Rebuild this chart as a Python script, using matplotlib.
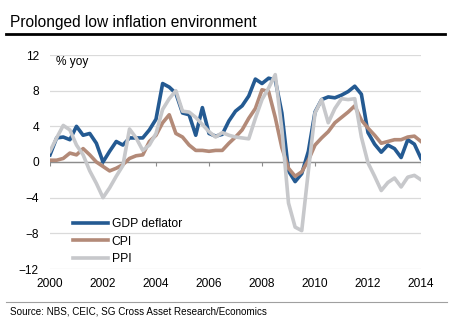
import numpy as np
import matplotlib
matplotlib.use('Agg')
import matplotlib.pyplot as plt
from matplotlib.lines import Line2D

plt.rcParams['font.family'] = ['Liberation Sans', 'DejaVu Sans']

# quarterly observations, 2000Q1 .. 2014Q1
quarters = np.arange(2000, 2014.01, 0.25)

gdp_deflator = [0.8, 2.7, 2.8, 2.5, 4.0, 3.0, 3.2, 2.1,
                0.0, 1.2, 2.3, 1.9, 2.7, 2.7, 2.7, 3.6,
                4.8, 8.8, 8.4, 7.7, 5.5, 5.3, 3.0, 6.1,
                3.2, 2.9, 3.1, 4.6, 5.7, 6.3, 7.4, 9.3,
                8.8, 9.4, 9.2, 5.5, -1.0, -2.2, -1.3, 1.2,
                5.6, 7.0, 7.3, 7.2, 7.5, 7.9, 8.5, 7.6,
                3.3, 2.0, 1.1, 1.9, 1.5, 0.5, 2.5, 2.0,
                0.4]
cpi = [0.2, 0.2, 0.4, 1.0, 0.8, 1.5, 0.8, 0.0,
       -0.5, -1.0, -0.7, -0.3, 0.4, 0.7, 0.8, 2.3,
       3.0, 4.4, 5.3, 3.2, 2.8, 1.9, 1.3, 1.3,
       1.2, 1.3, 1.3, 2.1, 2.8, 3.6, 4.9, 6.0,
       8.1, 7.9, 5.0, 1.6, -0.7, -1.6, -1.1, 0.2,
       1.9, 2.7, 3.4, 4.4, 5.0, 5.6, 6.3, 4.7,
       3.8, 3.0, 2.1, 2.3, 2.5, 2.5, 2.8, 2.9,
       2.3]
ppi = [1.2, 2.7, 4.1, 3.6, 1.9, 0.8, -1.0, -2.4,
       -4.0, -2.9, -1.6, -0.4, 3.7, 2.7, 1.3, 1.9,
       3.2, 5.9, 7.1, 8.0, 5.7, 5.6, 5.0, 4.2,
       3.4, 2.8, 3.3, 3.0, 2.8, 2.7, 2.6, 4.9,
       7.0, 8.3, 9.8, 3.7, -4.6, -7.3, -7.7, -1.0,
       5.5, 7.0, 4.4, 6.0, 7.1, 7.0, 7.1, 2.8,
       -0.1, -1.6, -3.2, -2.3, -1.8, -2.8, -1.7, -1.5,
       -2.0]

year_ticks = [2000, 2002, 2004, 2006, 2008, 2010, 2012, 2014]
y_ticks = [-12, -8, -4, 0, 4, 8, 12]

fig = plt.figure(figsize=(4.55, 3.26), dpi=100)
ax = fig.add_axes([50/455, 57/326, 371/455, 214/326])

ax.plot(quarters, gdp_deflator, color='#245a92', lw=2.6, label='GDP deflator')
ax.plot(quarters, cpi, color='#b38a78', lw=2.6, label='CPI')
ax.plot(quarters, ppi, color='#c7c8cb', lw=2.6, label='PPI')

ax.set_xlim(2000, 2014)
ax.set_ylim(-12, 12)
ax.set_yticks(y_ticks)
ax.set_xticks(year_ticks)
ax.tick_params(axis='both', length=0, labelsize=8.6, colors='black')
ax.tick_params(axis='y', pad=8)
ax.tick_params(axis='x', pad=6.5)
for s in ax.spines.values():
    s.set_visible(False)
ax.grid(axis='y', color='#dadada', lw=0.9)
ax.set_axisbelow(True)

# zero line with small year ticks
ax.axhline(0, color='#8c8c8c', lw=1, zorder=1)
ax.vlines(year_ticks, -0.4, 0, color='#8c8c8c', lw=0.8, zorder=1)

ax.text(0.015, 0.995, '% yoy', transform=ax.transAxes, fontsize=8.6, va='top', ha='left')

ax.legend(loc='lower left', bbox_to_anchor=(73/455, 61/326), bbox_transform=fig.transFigure,
          frameon=False, handlelength=2.9, handletextpad=0.3, labelspacing=0.45,
          borderpad=0, borderaxespad=0, fontsize=8.7)

# title and footer
fig.text(10/455, 304/326, 'Prolonged low inflation environment', fontsize=11.2, va='center', ha='left')
fig.add_artist(Line2D([6/455, 445/455], [292/326, 292/326], color='black', lw=2))
fig.add_artist(Line2D([6/455, 447/455], [24/326, 24/326], color='#a0a0a0', lw=0.8))
fig.text(10/455, 14/326, 'Source: NBS, CEIC, SG Cross Asset Research/Economics', fontsize=7.1, va='center', ha='left')

fig.savefig('out.png', dpi=100)
